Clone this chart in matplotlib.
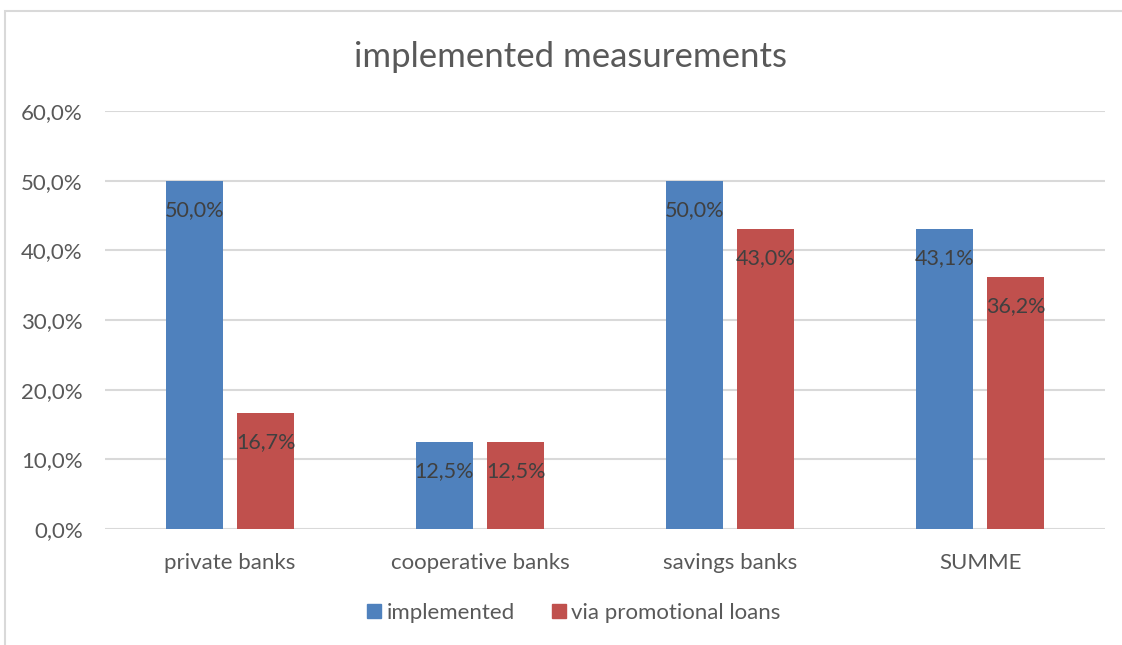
import matplotlib
matplotlib.use("Agg")
import matplotlib.pyplot as plt
from matplotlib.patches import Rectangle, Patch
import numpy as np

categories = ["private banks", "cooperative banks", "savings banks", "SUMME"]
implemented = [50.0, 12.5, 50.0, 43.1]
promotional = [16.7, 12.5, 43.0, 36.2]
series_names = ["implemented", "via promotional loans"]
yticks = [0, 10, 20, 30, 40, 50, 60]
title = "implemented measurements"

BLUE = "#4F81BD"
RED = "#C0504D"
GRID = "#D9D9D9"
TXT = "#595959"
LBL = "#404040"

plt.rcParams['font.family'] = ['Lato', 'DejaVu Sans']

W, H = 1122, 645
fig = plt.figure(figsize=(W / 100, H / 100), dpi=100)
fig.patches.append(Rectangle((5 / W, -0.05), 1.2, 1 - 11 / H + 0.05, transform=fig.transFigure,
                             fill=False, edgecolor=GRID, lw=1.5))

ax = fig.add_axes([105 / W, 1 - 529 / H, 1000 / W, (529 - 111) / H])
x = np.arange(len(categories))
bw = 0.228
off = 0.143
b1 = ax.bar(x - off, implemented, bw, color=BLUE, zorder=3)
b2 = ax.bar(x + off, promotional, bw, color=RED, zorder=3)

for bars, vals in ((b1, implemented), (b2, promotional)):
    for r, v in zip(bars, vals):
        ax.annotate(f"{v:.1f}%".replace(".", ","), (r.get_x() + r.get_width() / 2, v),
                    xytext=(0, -29), textcoords="offset pixels", ha="center", va="center",
                    fontsize=15.5, color=LBL, zorder=4)

ax.set_xlim(-0.5, 3.5)
ax.set_ylim(0, 60)
ax.set_yticks(yticks)
ax.set_yticklabels([f"{t:.1f}%".replace(".", ",") for t in yticks], fontsize=16, color=TXT)
ax.set_xticks(x)
ax.set_xticklabels(categories, fontsize=16, color=TXT)
ax.tick_params(axis="both", length=0)
ax.tick_params(axis="y", pad=16)
ax.tick_params(axis="x", pad=17)
ax.yaxis.grid(True, color=GRID, lw=1.5, zorder=0)
for s in ax.spines.values():
    s.set_visible(False)
ax.set_axisbelow(True)

fig.text(570 / W, 1 - 57 / H, title, ha="center", va="center", fontsize=25, color=TXT)

handles = [Patch(color=BLUE), Patch(color=RED)]
fig.legend(handles, series_names, loc="center", bbox_to_anchor=(574 / W, 1 - 613 / H), ncol=2,
           frameon=False, fontsize=16, labelcolor=TXT, handlelength=0.6, handleheight=0.6,
           handletextpad=0.25, columnspacing=1.7)

fig.savefig("out.png", dpi=100)
